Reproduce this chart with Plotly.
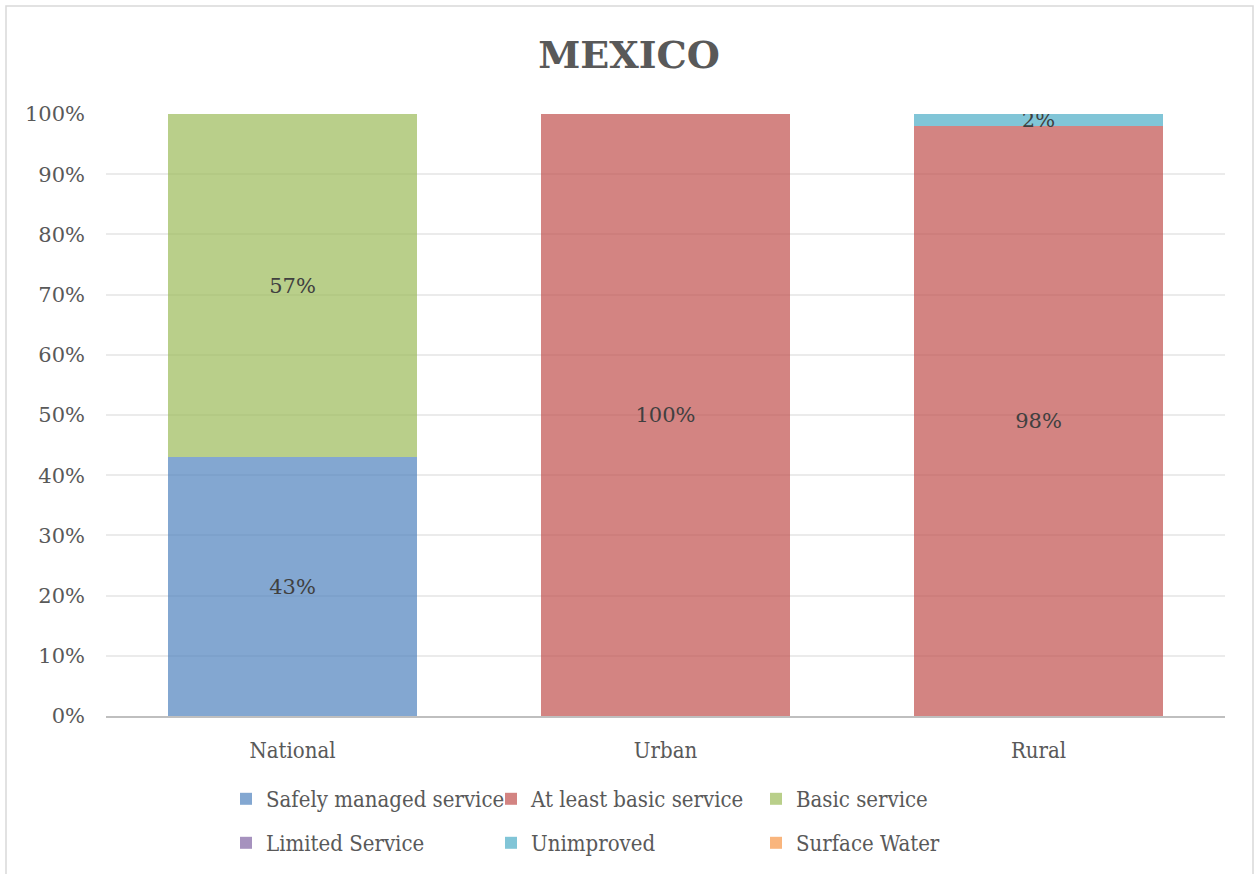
import plotly.graph_objects as go

# Drinking-water service levels, Mexico (percent of population)
categories = ["National", "Urban", "Rural"]

safely_managed = [43, None, None]
at_least_basic = [None, 100, 98]
basic_service = [57, None, None]
limited_service = [None, None, None]
unimproved = [None, None, 2]
surface_water = [None, None, None]

series_names = [
    "Safely managed service",
    "At least basic service",
    "Basic service",
    "Limited Service",
    "Unimproved",
    "Surface Water",
]
series_values = [
    safely_managed,
    at_least_basic,
    basic_service,
    limited_service,
    unimproved,
    surface_water,
]
series_colors = [
    "rgba(79,129,189,0.7)",
    "rgba(192,80,77,0.7)",
    "rgba(155,187,89,0.7)",
    "rgba(128,100,162,0.7)",
    "rgba(75,172,198,0.7)",
    "rgba(247,150,70,0.7)",
]

y_ticks = list(range(0, 101, 10))

W, H = 1255, 874
L, R, T, B = 106, 30, 114, 158
pw, ph = W - L - R, H - T - B


def px_to_paper_x(px):
    return (px - L) / pw


def px_to_paper_y(py):
    return (H - B - py) / ph


serif = "DejaVu Serif"
serif_narrow = "DejaVu Serif Condensed"
text_grey = "#595959"

fig = go.Figure()
for i, (name, vals, col) in enumerate(zip(series_names, series_values, series_colors)):
    labels = ["" if v is None else f"{v}%" for v in vals]
    fig.add_trace(
        go.Bar(
            name=name,
            x=categories,
            y=vals,
            marker=dict(color=col, line=dict(width=0)),
            text=labels,
            textposition="inside",
            insidetextanchor="middle",
            constraintext="none",
            textfont=dict(family=serif, size=21, color="#404040"),
            legend="legend" if i < 3 else "legend2",
            hoverinfo="skip",
        )
    )

legend_common = dict(
    orientation="h",
    xanchor="left",
    yanchor="middle",
    entrywidth=220,
    entrywidthmode="pixels",
    font=dict(family=serif_narrow, size=22, color=text_grey),
    bgcolor="rgba(0,0,0,0)",
    traceorder="normal",
)

fig.update_layout(
    width=W,
    height=H,
    margin=dict(l=L, r=R, t=T, b=B, autoexpand=False),
    paper_bgcolor="white",
    plot_bgcolor="white",
    barmode="stack",
    bargap=0.333,
    title=dict(
        text="<b>MEXICO</b>",
        x=629 / W,
        xref="container",
        xanchor="center",
        y=1 - 55 / H,
        yanchor="middle",
        font=dict(family=serif, size=38, color=text_grey),
    ),
    legend=dict(x=px_to_paper_x(226), y=px_to_paper_y(799), **legend_common),
    legend2=dict(x=px_to_paper_x(226), y=px_to_paper_y(843), **legend_common),
    showlegend=True,
    xaxis=dict(
        showgrid=False,
        showline=True,
        linecolor="#BFBFBF",
        linewidth=1.5,
        ticks="",
        ticklabelstandoff=14,
        tickfont=dict(family=serif_narrow, size=22, color=text_grey),
        fixedrange=True,
    ),
    yaxis=dict(
        range=[0, 100],
        tickvals=y_ticks,
        ticktext=[f"{t}%" for t in y_ticks],
        showgrid=True,
        gridcolor="#EBEBEB",
        gridwidth=1.5,
        zeroline=False,
        showline=False,
        ticks="",
        ticklabelstandoff=20,
        tickfont=dict(family=serif, size=21, color=text_grey),
        fixedrange=True,
    ),
    shapes=[
        dict(
            type="rect",
            xref="paper",
            yref="paper",
            x0=px_to_paper_x(6),
            x1=px_to_paper_x(1253),
            y0=px_to_paper_y(890),
            y1=px_to_paper_y(6),
            line=dict(color="#D9D9D9", width=1.5),
            fillcolor="rgba(0,0,0,0)",
            layer="below",
        )
    ],
)

fig.write_html("out.html")
